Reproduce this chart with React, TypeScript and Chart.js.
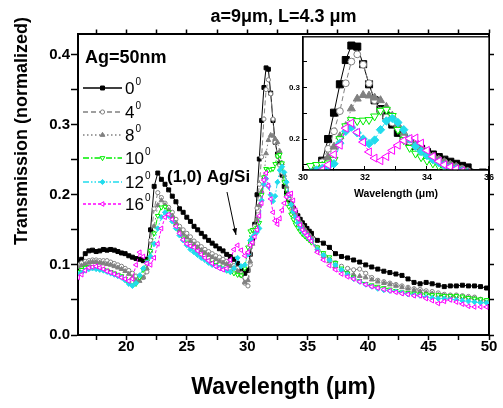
import React, { useEffect, useRef } from 'react';
import { Chart, registerables } from 'chart.js';
import { drawPoint } from 'chart.js/helpers';

Chart.register(...registerables);

const FONT = '"Liberation Sans", Arial, Helvetica, sans-serif';

// Wavelength grid (µm)
const wavelength = [
  16.0, 16.3, 16.6, 16.9, 17.2, 17.5, 17.8, 18.1, 18.4, 18.7, 19.0, 19.3, 19.6, 19.9, 20.2, 20.5, 20.8, 21.1, 21.4, 21.7,
  22.0, 22.3, 22.6, 22.9, 23.2, 23.5, 23.8, 24.1, 24.4, 24.7, 25.0, 25.3, 25.6, 25.9, 26.2, 26.5, 26.8, 27.1, 27.4, 27.7,
  28.0, 28.3, 28.6, 28.9, 29.2, 29.5, 29.8,
  30.06, 30.25, 30.44, 30.62, 30.81, 31.0, 31.19, 31.38, 31.56, 31.75, 31.94, 32.13, 32.31, 32.5, 32.69, 32.88, 33.06,
  33.25, 33.44, 33.63, 33.81, 34.0, 34.19, 34.38, 34.56, 34.75, 34.94, 35.13, 35.31,
  35.8, 36.3, 36.8, 37.3, 37.8, 38.3, 38.8, 39.3, 39.8, 40.3, 40.8, 41.3, 41.8, 42.3, 42.8, 43.3, 43.8, 44.3, 44.8, 45.3,
  45.8, 46.3, 46.8, 47.3, 47.8, 48.3, 48.8, 49.3, 49.8,
];

const angle0 = [
  0.105, 0.108, 0.116, 0.120, 0.121, 0.119, 0.120, 0.122, 0.121, 0.122, 0.121, 0.119, 0.117, 0.116, 0.113, 0.111, 0.109, 0.108, 0.106, 0.108,
  0.150, 0.212, 0.231, 0.222, 0.215, 0.207, 0.198, 0.190, 0.180, 0.175, 0.168, 0.162, 0.155, 0.150, 0.145, 0.140, 0.135, 0.131, 0.127, 0.123,
  0.120, 0.115, 0.112, 0.108, 0.102, 0.095, 0.088,
  0.092, 0.115, 0.137, 0.158, 0.200, 0.251, 0.306, 0.353, 0.381, 0.379, 0.345, 0.306, 0.275, 0.258, 0.245, 0.228, 0.212,
  0.203, 0.193, 0.187, 0.181, 0.175, 0.170, 0.165, 0.160, 0.156, 0.152, 0.148, 0.145,
  0.135, 0.131, 0.125, 0.116, 0.112, 0.110, 0.107, 0.104, 0.100, 0.097, 0.094, 0.091, 0.089, 0.087, 0.085, 0.080, 0.075, 0.073, 0.075, 0.073,
  0.071, 0.069, 0.070, 0.070, 0.071, 0.070, 0.070, 0.069, 0.067,
];

const angle4 = [
  0.100, 0.103, 0.105, 0.106, 0.107, 0.107, 0.106, 0.106, 0.106, 0.104, 0.102, 0.100, 0.098, 0.095, 0.092, 0.088, 0.084, 0.082, 0.082, 0.090,
  0.135, 0.180, 0.203, 0.196, 0.188, 0.182, 0.175, 0.165, 0.155, 0.150, 0.145, 0.140, 0.134, 0.130, 0.126, 0.122, 0.119, 0.116, 0.113, 0.111,
  0.108, 0.105, 0.102, 0.099, 0.095, 0.088, 0.074,
  0.070, 0.100, 0.132, 0.155, 0.181, 0.215, 0.254, 0.308, 0.350, 0.364, 0.344, 0.308, 0.275, 0.255, 0.242, 0.232, 0.222,
  0.208, 0.195, 0.186, 0.179, 0.172, 0.166, 0.160, 0.155, 0.150, 0.146, 0.142, 0.138,
  0.125, 0.115, 0.108, 0.103, 0.098, 0.095, 0.093, 0.094, 0.088, 0.082, 0.078, 0.076, 0.074, 0.072, 0.070, 0.068, 0.066, 0.065, 0.063, 0.062,
  0.060, 0.058, 0.057, 0.057, 0.056, 0.055, 0.054, 0.051, 0.049,
];

const angle8 = [
  0.097, 0.099, 0.101, 0.103, 0.104, 0.104, 0.103, 0.102, 0.101, 0.100, 0.098, 0.096, 0.094, 0.091, 0.087, 0.082, 0.078, 0.077, 0.082, 0.095,
  0.120, 0.155, 0.185, 0.192, 0.185, 0.178, 0.170, 0.160, 0.150, 0.144, 0.139, 0.134, 0.129, 0.125, 0.121, 0.117, 0.114, 0.111, 0.108, 0.105,
  0.103, 0.101, 0.098, 0.095, 0.091, 0.085, 0.075,
  0.078, 0.105, 0.130, 0.148, 0.165, 0.185, 0.205, 0.225, 0.259, 0.278, 0.285, 0.284, 0.280, 0.275, 0.262, 0.245, 0.228,
  0.212, 0.198, 0.188, 0.180, 0.173, 0.166, 0.160, 0.155, 0.150, 0.146, 0.141, 0.137,
  0.120, 0.112, 0.105, 0.098, 0.093, 0.089, 0.086, 0.084, 0.082, 0.079, 0.076, 0.074, 0.072, 0.070, 0.068, 0.066, 0.064, 0.062, 0.060, 0.059,
  0.057, 0.056, 0.055, 0.055, 0.054, 0.053, 0.052, 0.050, 0.048,
];

const angle10 = [
  0.090, 0.093, 0.096, 0.097, 0.097, 0.096, 0.094, 0.093, 0.092, 0.090, 0.088, 0.086, 0.084, 0.080, 0.074, 0.071, 0.073, 0.082, 0.093, 0.105,
  0.120, 0.145, 0.170, 0.182, 0.183, 0.175, 0.165, 0.155, 0.146, 0.138, 0.132, 0.127, 0.122, 0.118, 0.114, 0.110, 0.106, 0.103, 0.100, 0.097,
  0.095, 0.092, 0.090, 0.088, 0.086, 0.085, 0.095,
  0.125, 0.148, 0.150, 0.150, 0.153, 0.160, 0.200, 0.225, 0.237, 0.235, 0.236, 0.237, 0.244, 0.255, 0.257, 0.245, 0.218,
  0.198, 0.183, 0.172, 0.165, 0.158, 0.153, 0.148, 0.144, 0.141, 0.138, 0.135, 0.132,
  0.125, 0.117, 0.111, 0.103, 0.095, 0.088, 0.082, 0.077, 0.073, 0.071, 0.069, 0.067, 0.065, 0.063, 0.061, 0.060, 0.059, 0.058, 0.058, 0.057,
  0.057, 0.056, 0.056, 0.056, 0.055, 0.053, 0.052, 0.051, 0.050,
];

const angle12 = [
  0.087, 0.089, 0.092, 0.094, 0.095, 0.094, 0.093, 0.092, 0.090, 0.088, 0.086, 0.084, 0.082, 0.078, 0.073, 0.070, 0.074, 0.085, 0.095, 0.103,
  0.112, 0.130, 0.152, 0.168, 0.175, 0.170, 0.162, 0.152, 0.142, 0.135, 0.128, 0.122, 0.118, 0.114, 0.110, 0.107, 0.103, 0.100, 0.098, 0.096,
  0.094, 0.092, 0.090, 0.095, 0.110, 0.098, 0.100,
  0.115, 0.135, 0.140, 0.143, 0.147, 0.152, 0.192, 0.215, 0.223, 0.212, 0.200, 0.191, 0.198, 0.218, 0.235, 0.240, 0.232,
  0.218, 0.200, 0.186, 0.176, 0.168, 0.160, 0.154, 0.149, 0.145, 0.142, 0.138, 0.135,
  0.122, 0.114, 0.107, 0.100, 0.093, 0.086, 0.080, 0.076, 0.072, 0.069, 0.066, 0.064, 0.063, 0.062, 0.060, 0.058, 0.057, 0.056, 0.054, 0.053,
  0.052, 0.052, 0.051, 0.050, 0.049, 0.048, 0.047, 0.046, 0.046,
];

const angle16 = [
  0.082, 0.086, 0.092, 0.096, 0.097, 0.098, 0.096, 0.094, 0.091, 0.089, 0.087, 0.085, 0.082, 0.080, 0.077, 0.080, 0.100, 0.118, 0.112, 0.102,
  0.100, 0.110, 0.130, 0.152, 0.168, 0.172, 0.165, 0.155, 0.145, 0.136, 0.130, 0.127, 0.125, 0.120, 0.115, 0.110, 0.106, 0.102, 0.098, 0.095,
  0.093, 0.095, 0.107, 0.122, 0.128, 0.121, 0.113,
  0.118, 0.128, 0.132, 0.140, 0.150, 0.170, 0.188, 0.221, 0.231, 0.213, 0.194, 0.175, 0.163, 0.158, 0.166, 0.178, 0.188,
  0.197, 0.201, 0.202, 0.192, 0.178, 0.166, 0.157, 0.150, 0.146, 0.142, 0.138, 0.134,
  0.118, 0.107, 0.099, 0.093, 0.087, 0.083, 0.080, 0.076, 0.072, 0.069, 0.067, 0.065, 0.063, 0.061, 0.059, 0.058, 0.056, 0.056, 0.052, 0.049,
  0.045, 0.048, 0.050, 0.047, 0.044, 0.041, 0.040, 0.040, 0.040,
];

const SERIES = [angle0, angle4, angle8, angle10, angle12, angle16];
const angleLabels = ['0', '4', '8', '10', '12', '16'];

const TITLE = 'a=9μm, L=4.3 μm';
const Y_TITLE = 'Transmission (normalized)';
const X_TITLE = 'Wavelength (μm)';
const SAMPLE_LABEL = 'Ag=50nm';
const ANNOTATION = '(1,0) Ag/Si';

const STYLES = [
  { color: '#000000', dash: [] as number[], pointStyle: 'rect', rotation: 0, filled: true, r: 2.8, rInset: 5 },
  { color: '#808080', dash: [5, 3], pointStyle: 'circle', rotation: 0, filled: false, r: 2.1, rInset: 3.4 },
  { color: '#808080', dash: [1.5, 2.5], pointStyle: 'triangle', rotation: 0, filled: true, r: 2.7, rInset: 4.6 },
  { color: '#00ee00', dash: [6, 2, 1.5, 2], pointStyle: 'triangle', rotation: 180, filled: false, r: 2.7, rInset: 4.6 },
  { color: '#22dced', dash: [6, 2, 1.5, 2, 1.5, 2], pointStyle: 'rectRot', rotation: 0, filled: true, r: 2.6, rInset: 4.2 },
  { color: '#ff00ff', dash: [3, 2], pointStyle: 'triangle', rotation: 270, filled: false, r: 2.7, rInset: 4.6 },
];

function makeDatasets(inset: boolean) {
  return SERIES.map((vals, i) => {
    const st = STYLES[i];
    return {
      label: angleLabels[i] + '°',
      data: wavelength.map((x, k) => ({ x, y: vals[k] })),
      borderColor: st.color,
      backgroundColor: st.filled ? st.color : '#ffffff',
      borderWidth: 1,
      borderDash: st.dash,
      pointStyle: st.pointStyle,
      pointRotation: st.rotation,
      pointRadius: inset ? st.rInset : st.r,
      pointBorderColor: st.color,
      pointBackgroundColor: st.filled ? st.color : '#ffffff',
      pointBorderWidth: 1,
      tension: 0,
      order: 5 - i,
      fill: false,
    };
  });
}

const isMult = (v: number, m: number) => Math.abs(v / m - Math.round(v / m)) < 1e-6;

const mainDecor = {
  id: 'mainDecor',
  afterDraw(chart: any) {
    const ctx = chart.ctx as CanvasRenderingContext2D;
    const area = chart.chartArea;
    ctx.save();
    ctx.fillStyle = '#000';
    // title
    ctx.font = `bold 18px ${FONT}`;
    ctx.textAlign = 'center';
    ctx.textBaseline = 'middle';
    ctx.fillText(TITLE, (area.left + area.right) / 2, 17);
    // y title
    ctx.save();
    ctx.translate(22, 131);
    ctx.rotate(-Math.PI / 2);
    ctx.font = `bold 18px ${FONT}`;
    ctx.fillText(Y_TITLE, 0, 0);
    ctx.restore();
    // sample label
    ctx.textAlign = 'left';
    ctx.font = `bold 18px ${FONT}`;
    ctx.fillText(SAMPLE_LABEL, 85, 58);
    // legend
    const rows = [88, 112, 135, 158, 182, 204];
    STYLES.forEach((st, i) => {
      const y = rows[i];
      ctx.save();
      ctx.strokeStyle = st.color;
      ctx.lineWidth = 1.3;
      ctx.setLineDash(st.dash);
      ctx.beginPath();
      ctx.moveTo(83, y);
      ctx.lineTo(122, y);
      ctx.stroke();
      ctx.setLineDash([]);
      ctx.fillStyle = st.filled ? st.color : '#ffffff';
      ctx.strokeStyle = st.color;
      ctx.lineWidth = 1;
      drawPoint(ctx, { pointStyle: st.pointStyle as any, rotation: st.rotation, radius: st.r, borderWidth: 1 }, 102.5, y);
      ctx.fillStyle = '#000';
      ctx.font = `17px ${FONT}`;
      ctx.textBaseline = 'middle';
      ctx.textAlign = 'left';
      ctx.fillText(angleLabels[i], 125, y + 1);
      const w = ctx.measureText(angleLabels[i]).width;
      ctx.font = `10px ${FONT}`;
      ctx.fillText('0', 125 + w + 1, y - 6);
      ctx.restore();
    });
    // annotation
    ctx.font = `bold 17px ${FONT}`;
    ctx.textAlign = 'left';
    ctx.textBaseline = 'middle';
    ctx.fillText(ANNOTATION, 167, 177);
    // arrow
    const x1 = 227, y1 = 192, x2 = 236, y2 = 235;
    ctx.strokeStyle = '#000';
    ctx.lineWidth = 1;
    ctx.beginPath();
    ctx.moveTo(x1, y1);
    ctx.lineTo(x2, y2);
    ctx.stroke();
    const ang = Math.atan2(y2 - y1, x2 - x1);
    ctx.beginPath();
    ctx.moveTo(x2, y2);
    ctx.lineTo(x2 - 7 * Math.cos(ang - 0.35), y2 - 7 * Math.sin(ang - 0.35));
    ctx.lineTo(x2 - 7 * Math.cos(ang + 0.35), y2 - 7 * Math.sin(ang + 0.35));
    ctx.closePath();
    ctx.fill();
    ctx.restore();
  },
};

const insetDecor = {
  id: 'insetDecor',
  beforeDraw(chart: any) {
    const { ctx, chartArea: a } = chart;
    ctx.save();
    ctx.fillStyle = '#ffffff';
    ctx.fillRect(a.left, a.top, a.right - a.left, a.bottom - a.top);
    ctx.restore();
  },
  afterDraw(chart: any) {
    const { ctx, chartArea: a } = chart;
    ctx.save();
    ctx.strokeStyle = '#000';
    ctx.lineWidth = 1.3;
    ctx.strokeRect(a.left, a.top, a.right - a.left, a.bottom - a.top);
    ctx.restore();
  },
};

export default function App() {
  const mainRef = useRef<HTMLCanvasElement>(null);
  const insetRef = useRef<HTMLCanvasElement>(null);

  useEffect(() => {
    const tickFont = { family: FONT, size: 15, weight: 'bold' as const };
    const frame = { display: true, color: '#000', width: 2 };
    const gridOut = (len: number) => ({ drawOnChartArea: false, drawTicks: true, tickLength: len, tickWidth: 1.5, tickColor: '#000' });

    const main = new Chart(mainRef.current!, {
      type: 'line',
      data: { datasets: makeDatasets(false) as any },
      options: {
        animation: false,
        responsive: false,
        devicePixelRatio: 1,
        layout: { padding: { left: 0, top: 28.5, right: 9, bottom: 0 } },
        plugins: { legend: { display: false }, tooltip: { enabled: false }, title: { display: false } },
        scales: {
          x: {
            type: 'linear', position: 'bottom', min: 16, max: 50,
            ticks: {
              stepSize: 2.5, includeBounds: false, autoSkip: false, maxRotation: 0, padding: -2, color: '#000', font: tickFont,
              callback: (v: any) => (isMult(Number(v), 5) ? String(v) : ''),
            },
            grid: gridOut(5),
            border: frame,
            title: { display: true, text: X_TITLE, color: '#000', font: { family: FONT, size: 23, weight: 'bold' }, padding: { top: 0, bottom: 7 } },
            afterFit: (s: any) => { s.height = 73; },
          },
          x2: {
            type: 'linear', position: 'top', min: 16, max: 50,
            ticks: { display: false, stepSize: 2.5, includeBounds: false, autoSkip: false },
            grid: gridOut(4),
            border: frame,
            afterFit: (s: any) => { s.height = 5; },
          },
          y: {
            type: 'linear', position: 'left', min: 0, max: 0.43,
            ticks: {
              stepSize: 0.05, includeBounds: false, autoSkip: false, padding: 1, color: '#000', font: tickFont,
              callback: (v: any) => (isMult(Number(v), 0.1) ? Number(v).toFixed(1) : ''),
            },
            grid: gridOut(7),
            border: frame,
            afterFit: (s: any) => { s.width = 78; },
          },
          y2: {
            type: 'linear', position: 'right', min: 0, max: 0.43,
            ticks: { display: false, stepSize: 0.05, includeBounds: false, autoSkip: false },
            grid: gridOut(5),
            border: frame,
            afterFit: (s: any) => { s.width = 5; },
          },
        },
      } as any,
      plugins: [mainDecor],
    });

    const insetTick = { family: FONT, size: 9, weight: 'bold' as const };
    const gridIn = { drawOnChartArea: false, drawTicks: true, tickLength: -4, tickWidth: 1, tickColor: '#000' };
    const inset = new Chart(insetRef.current!, {
      type: 'line',
      data: { datasets: makeDatasets(true) as any },
      options: {
        animation: false,
        responsive: false,
        devicePixelRatio: 1,
        layout: { padding: { left: 0, top: 8, right: 10, bottom: 0 } },
        plugins: { legend: { display: false }, tooltip: { enabled: false }, title: { display: false } },
        scales: {
          x: {
            type: 'linear', position: 'bottom', min: 30, max: 36,
            ticks: {
              stepSize: 1, autoSkip: false, maxRotation: 0, padding: 6, color: '#000', font: insetTick,
              callback: (v: any) => (isMult(Number(v), 2) ? String(v) : ''),
            },
            grid: gridIn,
            border: { display: true, color: '#000', width: 1.3 },
            title: { display: true, text: X_TITLE, color: '#000', font: { family: FONT, size: 10.5, weight: 'bold' }, padding: { top: 0, bottom: 9.5 } },
            afterFit: (s: any) => { s.height = 40; },
          },
          y: {
            type: 'linear', position: 'left', min: 0.14, max: 0.398,
            ticks: {
              stepSize: 0.05, includeBounds: false, autoSkip: false, padding: 7, color: '#000', font: { family: FONT, size: 8, weight: 'bold' },
              callback: (v: any) => (isMult(Number(v), 0.1) ? Number(v).toFixed(1) : ''),
            },
            grid: gridIn,
            border: { display: true, color: '#000', width: 1.3 },
            afterFit: (s: any) => { s.width = 43; },
          },
        },
      } as any,
      plugins: [insetDecor],
    });

    return () => {
      main.destroy();
      inset.destroy();
    };
  }, []);

  return (
    <div style={{ position: 'fixed', left: 0, top: 0, width: 503, height: 408, background: '#ffffff' }}>
      <canvas ref={mainRef} width={503} height={408} style={{ position: 'absolute', left: 0, top: 0, width: 503, height: 408 }} />
      <canvas ref={insetRef} width={240} height={185} style={{ position: 'absolute', left: 260, top: 25, width: 240, height: 185 }} />
    </div>
  );
}
